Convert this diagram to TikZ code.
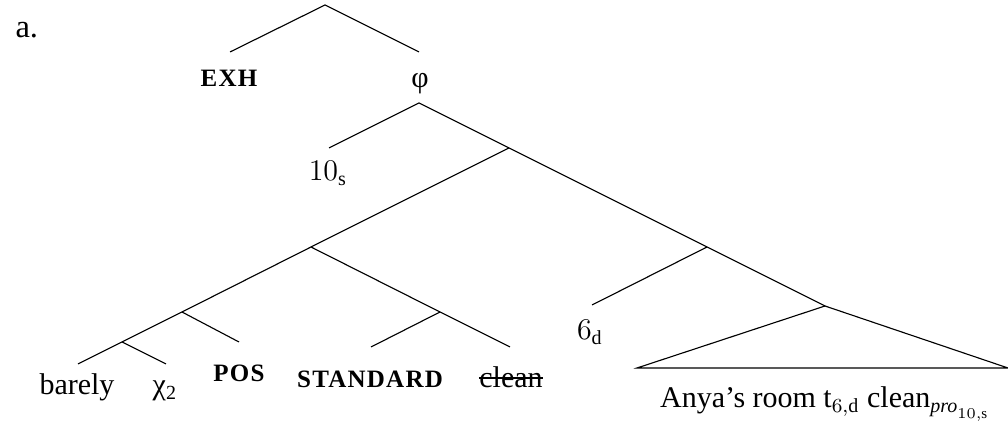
\documentclass[tikz,border=0pt]{standalone}
\usepackage{amsmath}
\usepackage{fontspec}
\setmainfont{Liberation Serif}
\usetikzlibrary{positioning}
\tikzset{
  line cap=round,
  line join=round,
  every picture/.style={line width=0.45pt},
  leaf/.style={inner sep=0pt, anchor=base, font=\fontsize{12}{14}\selectfont},
  feat/.style={leaf, font=\fontsize{10}{12}\selectfont\bfseries\addfontfeatures{LetterSpace=5}},
  strike/.style={line width=0.5pt}
}

\begin{document}
\begin{tikzpicture}[x=0.4pt, y=-0.4pt]
\useasboundingbox (0,0) rectangle (1008,424);

% branching points
\coordinate (top) at (325,5);
\coordinate (exhend) at (230,52);
\coordinate (phiend) at (419,52);
\coordinate (phitop) at (419,103);
\coordinate (tenend) at (329,148);
\coordinate (vp) at (509,148);
\coordinate (deg) at (311,247);
\coordinate (sixtop) at (707,247);
\coordinate (sixend) at (592,305);
\coordinate (tri) at (825,306);
\coordinate (trileft) at (637,368);
\coordinate (triright) at (1008,368);
\coordinate (barelypos) at (182,312);
\coordinate (barelychi) at (122,342);
\coordinate (barelyend) at (78,364);
\coordinate (chiend) at (166,364);
\coordinate (posend) at (239,342);
\coordinate (stdclean) at (440,312);
\coordinate (stdend) at (371,347);
\coordinate (cleanend) at (510,347);

% branches
\draw (exhend) -- (top) -- (phiend);
\draw (tenend) -- (phitop) -- (vp) -- (sixtop) -- (tri);
\draw (vp) -- (deg) -- (barelypos) -- (barelychi) -- (barelyend);
\draw (barelychi) -- (chiend);
\draw (barelypos) -- (posend);
\draw (deg) -- (stdclean) -- (cleanend);
\draw (stdclean) -- (stdend);
\draw (sixtop) -- (sixend);
\draw (tri) -- (trileft) -- (triright) -- cycle;

% labels
\node[leaf, anchor=base west, font=\fontsize{13}{15}\selectfont] (ex) at (15,38) {a.};
\node[feat] (exh) at (229,87) {EXH};
\node[leaf] (phi) at (420,88) {φ};
\node[leaf] (ten) at (328,181) {$10_{\mathrm{s}}$};
\node[leaf] (barely) at (77,395) {barely};
\node[leaf] (chi) at (165,395) {χ\textsubscript{2}};
\node[feat] (pos) at (239,382) {POS};
\node[feat] (std) at (370,388) {STANDARD};
\node[leaf] (clean) at (511,388) {clean};
\node[leaf] (six) at (590,340) {$6_{\mathrm{d}}$};
\node[leaf] (anya) at (825,408) {Anya’s room t$_{6,\mathrm{d}}$ clean$_{\textit{pro}_{10,\mathrm{s}}}$};

% crossed-out copy
\draw[strike] ([yshift=4pt]clean.base west) -- ([yshift=4pt]clean.base east);

\end{tikzpicture}
\end{document}
